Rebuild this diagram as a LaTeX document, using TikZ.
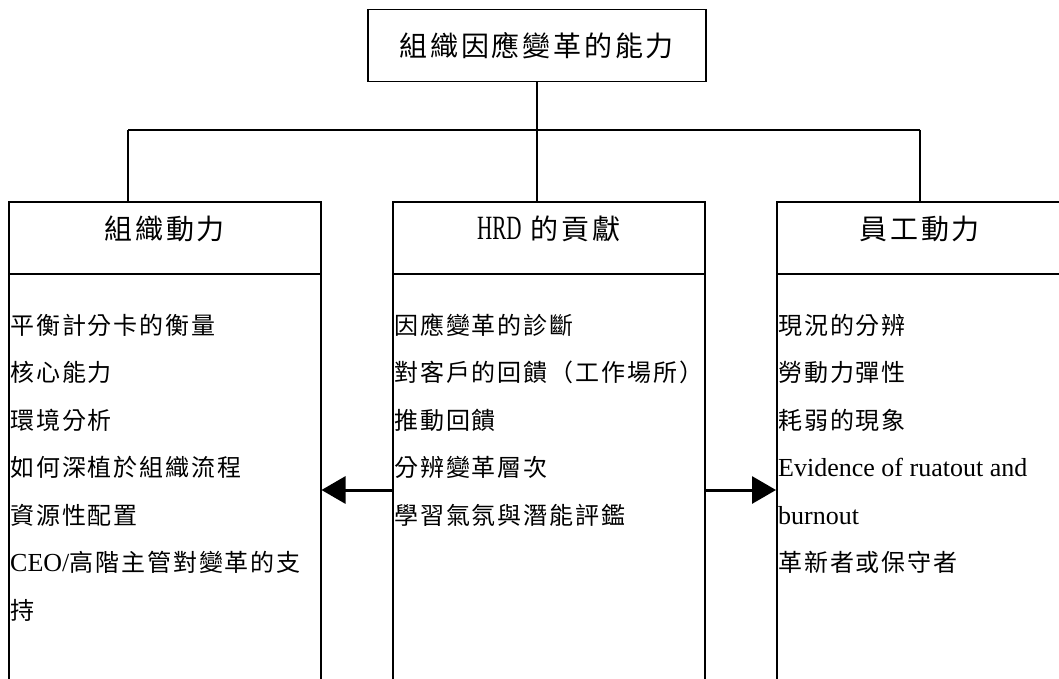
\documentclass[tikz,border=0pt]{standalone}
\usepackage{fontspec}
\setmainfont{Liberation Serif}
\newfontfamily\cjk[LetterSpace=8]{Noto Sans CJK TC}
\newfontfamily\cjkh[LetterSpace=10]{Noto Sans CJK TC}
\newfontfamily\hrdfont[FakeStretch=0.62]{Liberation Serif}
\usetikzlibrary{arrows.meta}
\begin{document}
\begin{tikzpicture}[x=1pt,y=-1pt,
  box/.style={draw=black,line width=1.5pt,inner sep=0pt,anchor=north west},
  headtext/.style={inner sep=0pt,font=\fontsize{28}{30}\selectfont\cjkh},
  item/.style={inner sep=0pt,anchor=base west,font=\fontsize{24}{26}\selectfont\cjk},
  latin/.style={inner sep=0pt,anchor=base west,font=\fontsize{26}{28}\selectfont\rmfamily},
  conn/.style={line width=1.5pt},
  arr/.style={line width=3pt,-{Triangle[length=24pt,width=27pt]}}]
\useasboundingbox (0,0) rectangle (1059,679);
% title
\node[box,minimum width=338pt,minimum height=72pt] (title) at (367,9) {};
\node[headtext] (titleT) at (title.center) {組織因應變革的能力};
% header boxes
\node[box,minimum width=312pt,minimum height=72pt] (orgH) at (8,201) {};
\node[box,minimum width=312pt,minimum height=72pt] (hrdH) at (392,201) {};
\node[box,minimum width=286pt,minimum height=72pt] (empH) at (776,201) {};
% body boxes (open below the page)
\node[box,minimum width=312pt,minimum height=440pt] (orgB) at (8,273) {};
\node[box,minimum width=312pt,minimum height=440pt] (hrdB) at (392,273) {};
\node[box,minimum width=286pt,minimum height=440pt] (empB) at (776,273) {};
% header texts
\node[headtext] (orgT) at ([yshift=9pt]orgH.center) {組織動力};
\node[headtext] (hrdT) at ([yshift=9pt]hrdH.center) {{\fontsize{34}{36}\selectfont\hrdfont HRD} 的貢獻};
\node[headtext] (empT) at ([yshift=9pt]empH.center) {員工動力};
% connectors
\coordinate (busL) at (128,130);
\coordinate (busR) at (920,130);
\coordinate (arrY) at (0,490);
\draw[conn] (title.south) -- (title.south |- hrdH.north);
\draw[conn] (busL) -- (busR);
\draw[conn] (busL) -- (busL |- orgH.north);
\draw[conn] (busR) -- (busR |- empH.north);
\draw[arr] (hrdB.west |- arrY) -- (orgB.east |- arrY);
\draw[arr] (hrdB.east |- arrY) -- (empB.west |- arrY);
% left column
\node[item] (l1) at (10,334) {平衡計分卡的衡量};
\node[item] (l2) at (10,381.5) {核心能力};
\node[item] (l3) at (10,429) {環境分析};
\node[item] (l4) at (10,476.5) {如何深植於組織流程};
\node[item] (l5) at (10,524) {資源性配置};
\node[item] (l6) at (10,571.5) {{\fontsize{26}{28}\selectfont\rmfamily CEO/}高階主管對變革的支};
\node[item] (l7) at (10,619) {持};
% middle column
\node[item] (m1) at (394,334) {因應變革的診斷};
\node[item] (m2) at (394,381.5) {對客戶的回饋（工作場所）};
\node[item] (m3) at (394,429) {推動回饋};
\node[item] (m4) at (394,476.5) {分辨變革層次};
\node[item] (m5) at (394,524) {學習氣氛與潛能評鑑};
% right column
\node[item] (r1) at (778,334) {現況的分辨};
\node[item] (r2) at (778,381.5) {勞動力彈性};
\node[item] (r3) at (778,429) {耗弱的現象};
\node[latin] (r4) at (778,476.5) {Evidence of ruatout and};
\node[latin] (r5) at (778,524) {burnout};
\node[item] (r6) at (778,571.5) {革新者或保守者};
\end{tikzpicture}
\end{document}
